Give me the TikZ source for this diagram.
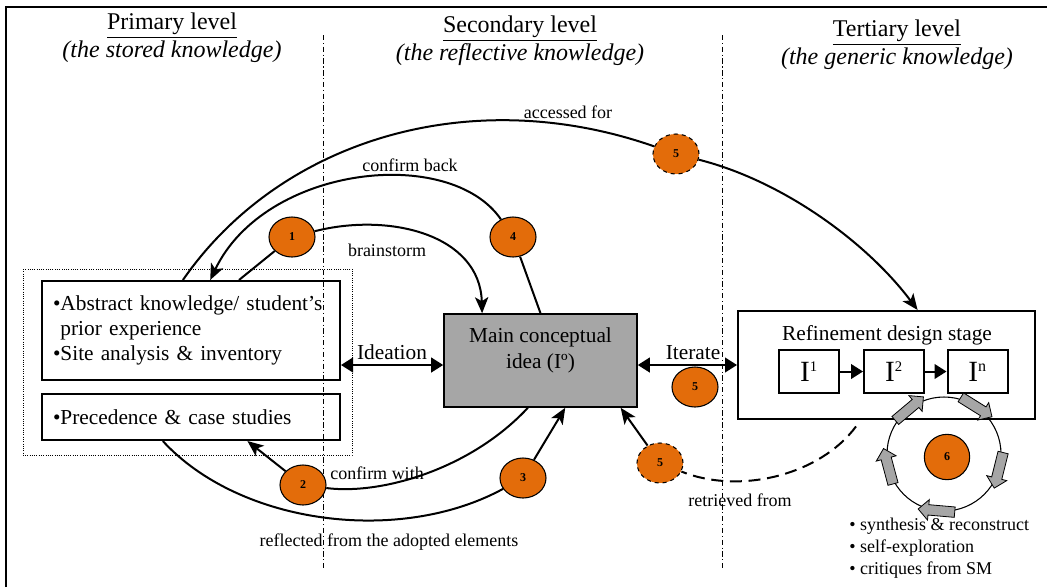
\documentclass[tikz,border=0pt]{standalone}
\usepackage{fontspec}
\setmainfont{Liberation Serif}
\usetikzlibrary{arrows.meta,shapes.geometric,shapes.arrows,calc}

\begin{document}
\begin{tikzpicture}[
    x=0.75pt, y=-0.75pt,
    head/.style={font=\fontsize{18}{21}\selectfont, align=center, inner sep=0pt},
    box/.style={draw=black, line width=1.5pt, inner sep=0pt, font=\fontsize{16}{19}\selectfont},
    ibox/.style={draw=black, line width=1.5pt, minimum width=45pt, minimum height=32.25pt, inner sep=0pt, font=\fontsize{22}{24}\selectfont},
    txt/.style={font=\fontsize{16}{19.5}\selectfont, align=center, inner sep=1pt},
    lbl/.style={font=\fontsize{13.5}{16}\selectfont, inner sep=1pt},
    num/.style={ellipse, draw=black, line width=0.8pt, fill=colorNum, minimum width=34.5pt, minimum height=30pt, inner sep=0pt, font=\bfseries\fontsize{9}{9}\selectfont},
    link/.style={line width=1.5pt},
    tip/.style={-{Stealth[length=12pt,width=10pt,inset=3pt]}},
    twoway/.style={line width=1.5pt, {Triangle[length=9pt,width=11pt]}-{Triangle[length=9pt,width=11pt]}},
    spin/.style={single arrow, draw=black, line width=0.6pt, fill=colorBox, text height=3.6pt, text depth=3.6pt, text width=23pt, single arrow head extend=3.8pt, inner sep=0pt}
    ]
    % Colours
    \definecolor{colorNum}{RGB}{227,108,10}
    \definecolor{colorBox}{RGB}{166,166,166}

    \useasboundingbox (0,0) rectangle (1047,587);
    \draw[line width=1.5pt] (6,587) -- (6,7) -- (1047,7);

    % Levels
    \node[head] (primary) at (172,38) {\underline{Primary level}\\\textit{(the stored knowledge)}};
    \node[head] (secondary) at (520,41) {\underline{Secondary level}\\\textit{(the reflective knowledge)}};
    \node[head] (tertiary) at (897,45) {\underline{Tertiary level}\\\textit{(the generic knowledge)}};
    \draw[line width=0.7pt, dash pattern=on 4pt off 2pt on 0.8pt off 2pt] (323,35) -- (323,570);
    \draw[line width=0.7pt, dash pattern=on 4pt off 2pt on 0.8pt off 2pt] (722,35) -- (722,570);

    % Boxes
    \draw[densely dotted, line width=0.7pt] (23,269) rectangle (352,455);
    \node[box, minimum width=223.5pt, minimum height=74.25pt, text width=207pt, align=left] (absk) at (191,330.5)
        {\textbullet Abstract knowledge/ student's\\\hphantom{\textbullet}prior experience\\\textbullet Site analysis \& inventory};
    \node[box, minimum width=223.5pt, minimum height=34.5pt, text width=207pt, align=left] (casest) at (191,417)
        {\textbullet Precedence \& case studies};

    \node[box, fill=colorBox, line width=1.2pt, minimum width=144.75pt, minimum height=69.75pt] (idea) at (540.5,360.5) {};
    \node[txt] (ideatxt) at (540.5,350) {Main conceptual\\idea (Iº)};

    \node[box, minimum width=222.75pt, minimum height=81pt] (stage) at (886.5,365) {};
    \node[txt] (stagetxt) at (887,335) {Refinement design stage};
    \node[ibox] (i1) at (809,371.5) {I\textsuperscript{\fontsize{11}{11}\selectfont 1}};
    \node[ibox] (i2) at (894,371.5) {I\textsuperscript{\fontsize{11}{11}\selectfont 2}};
    \node[ibox] (in) at (977.5,371.5) {I\textsuperscript{\fontsize{12}{12}\selectfont n}};
    \draw[link, -{Triangle[length=9pt,width=11pt]}] (i1) -- (i2);
    \draw[link, -{Triangle[length=9pt,width=11pt]}] (i2) -- (in);

    % Cycle
    \node[circle, draw=black, line width=0.8pt, minimum size=85.5pt, inner sep=0pt] (cyc) at (944,454) {};
    \node[num, circle, minimum size=34pt] (c6) at (947,457) {6};
    \node[spin, rotate=40] (s1) at ($(cyc)+(130:42.75pt)$) {};
    \node[spin, rotate=-32] (s2) at ($(cyc)+(58:42.75pt)$) {};
    \node[spin, rotate=-104] (s3) at ($(cyc)+(-14:42.75pt)$) {};
    \node[spin, rotate=-185] (s4) at ($(cyc)+(-95:42.75pt)$) {};
    \node[spin, rotate=-255] (s5) at ($(cyc)+(-165:42.75pt)$) {};
    \node[lbl, anchor=north west, align=left, inner sep=0pt, font=\fontsize{13.5}{16.5}\selectfont] (cyclist) at (849,518)
        {\textbullet\ synthesis \& reconstruct\\\textbullet\ self-exploration\\\textbullet\ critiques from SM};

    % Steps
    \node[num] (c1) at (292,237) {1};
    \node[num] (c4) at (513,237) {4};
    \node[num, dashed] (c5a) at (676,154) {5};
    \node[num] (c2) at (303,485) {2};
    \node[num] (c3) at (523,478) {3};
    \node[num, dashed] (c5b) at (660,463) {5};
    \node[num] (c5c) at (695,387) {5};

    % Connectors
    \draw[link] ($(absk.north west)!0.473!(absk.north east)$) .. controls (280,140) and (470,82) .. (c5a);
    \draw[link, tip] (c5a) .. controls (780,180) and (865,240) .. ($(stage.north west)!0.604!(stage.north east)$);
    \node[lbl] (accessed) at (568,112) {accessed for};

    \draw[link] ($(idea.north west)!0.5!(idea.north east)$) -- (c4);
    \draw[link, tip] (c4) .. controls (450,145) and (265,165) .. ($(absk.north west)!0.564!(absk.north east)$);
    \node[lbl] (confback) at (410,165) {confirm back};

    \draw[link] ($(absk.north west)!0.66!(absk.north east)$) -- (c1);
    \draw[link, tip] (c1) .. controls (390,212) and (480,235) .. ($(idea.north west)!0.2!(idea.north east)$);
    \node[lbl] (brain) at (387,250) {brainstorm};

    \draw[twoway] (absk.east |- stage.west) -- (idea.west |- stage.west);
    \node[txt] (ideation) at (392,352) {Ideation};
    \draw[twoway] (idea.east |- stage.west) -- (stage.west);
    \node[txt] (iterate) at (693,353) {Iterate};

    \draw[link] ($(idea.south west)!0.435!(idea.south east)$) .. controls (470,470) and (380,495) .. (c2);
    \draw[link, tip] (c2) -- ($(casest.south west)!0.688!(casest.south east)$);
    \node[lbl] (confwith) at (377,473) {confirm with};

    \draw[link] ($(casest.south west)!0.406!(casest.south east)$) .. controls (240,525) and (400,545) .. (c3);
    \draw[link, tip] (c3) -- ($(idea.south west)!0.627!(idea.south east)$);
    \node[lbl] (reflect) at (389,542) {reflected from the adopted elements};

    \draw[link, dash pattern=on 9pt off 5pt, shorten <=6pt] ($(stage.south west)!0.414!(stage.south east)$) .. controls (820,475) and (740,495) .. (c5b);
    \draw[link, tip] (c5b) -- ($(idea.south west)!0.912!(idea.south east)$);
    \node[lbl] (retrieve) at (740,500) {retrieved from};
\end{tikzpicture}
\end{document}
